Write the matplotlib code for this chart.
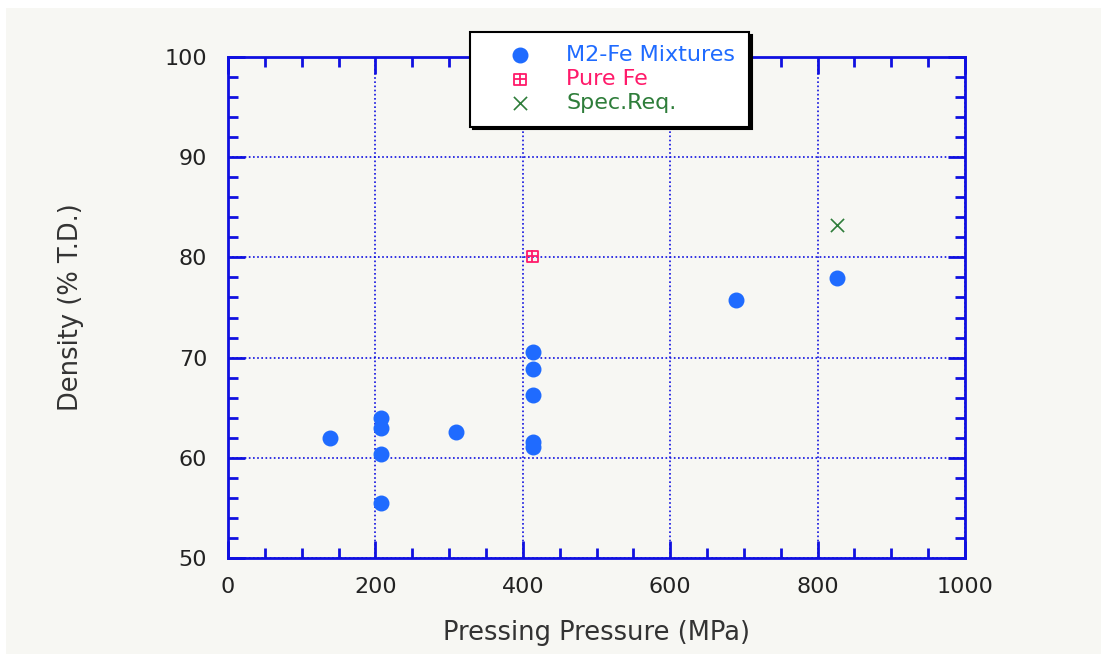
import matplotlib
matplotlib.use("Agg")
import matplotlib.pyplot as plt
from matplotlib.patches import Rectangle
from matplotlib.legend_handler import HandlerTuple
from matplotlib.ticker import MultipleLocator

# data
mix_pressure = [138, 207, 207, 207, 207, 310, 414, 414, 414, 414, 414, 689, 827]
mix_density = [62.0, 64.0, 63.0, 60.4, 55.5, 62.6, 70.6, 68.9, 66.3, 61.6, 61.1, 75.7, 77.9]
fe_pressure = [413]
fe_density = [80.1]
spec_pressure = [827]
spec_density = [83.2]

bg = "#f7f7f3"
axis_blue = "#1010e0"
blue = "#1f6bff"
pink = "#ff1a6a"
green = "#2e7d3a"

plt.rcParams['font.family'] = ['DejaVu Sans']

fig = plt.figure(figsize=(11.01, 6.54), dpi=100, facecolor="white")
fig.patches.append(Rectangle((6 / 1101, 0), 1, 646 / 654, transform=fig.transFigure,
                             facecolor=bg, edgecolor="none", zorder=-10))
ax = fig.add_axes([228 / 1101, 1 - 558 / 654, 737 / 1101, 501 / 654])
ax.set_facecolor(bg)

ax.scatter(mix_pressure, mix_density, s=110, color=blue, zorder=3)
ax.scatter(fe_pressure, fe_density, s=70, marker="s", facecolor="none",
           edgecolor=pink, linewidth=1.3, zorder=3)
ax.scatter(fe_pressure, fe_density, s=70, marker="+", color=pink, linewidth=1.3, zorder=3)
ax.scatter(spec_pressure, spec_density, s=90, marker="x", color=green, linewidth=1.2, zorder=3)

ax.set_xlim(0, 1000)
ax.set_ylim(50, 100)
ax.xaxis.set_major_locator(MultipleLocator(200))
ax.xaxis.set_minor_locator(MultipleLocator(50))
ax.yaxis.set_major_locator(MultipleLocator(10))
ax.yaxis.set_minor_locator(MultipleLocator(2))
ax.grid(True, which="major", color=axis_blue, linestyle=(0, (1, 1.5)), linewidth=1.2)

for sp in ax.spines.values():
    sp.set_color(axis_blue)
    sp.set_linewidth(2)
ax.tick_params(which="both", direction="in", color=axis_blue, width=2,
               top=True, right=True, labelsize=16, labelcolor="#222222")
ax.tick_params(which="major", length=12)
ax.tick_params(which="minor", length=7)
ax.tick_params(axis="y", pad=15)
ax.tick_params(axis="x", pad=14)

ax.set_xlabel("Pressing Pressure (MPa)", fontsize=18.5, color="#333333", labelpad=16)
ax.set_ylabel("Density (% T.D.)", fontsize=18.5, color="#333333", labelpad=58)

# legend
h1 = ax.scatter([], [], s=110, color=blue)
h2a = ax.scatter([], [], s=70, marker="s", facecolor="none", edgecolor=pink, linewidth=1.3)
h2b = ax.scatter([], [], s=70, marker="+", color=pink, linewidth=1.3)
h3 = ax.scatter([], [], s=90, marker="x", color=green, linewidth=1.2)
leg = ax.legend([h1, (h2a, h2b), h3], ["M2-Fe Mixtures", "Pure Fe", "Spec.Req."],
                handler_map={tuple: HandlerTuple(ndivide=1, pad=0)},
                loc="upper left", bbox_to_anchor=(0.328, 1.05), fontsize=16,
                frameon=True, fancybox=False, framealpha=1, edgecolor="black",
                facecolor="white", borderpad=0.6, labelspacing=0.18,
                handletextpad=0.45, borderaxespad=0, handlelength=3.3,
                shadow={"color": "black", "alpha": 1})
leg.get_frame().set_linewidth(1.5)
for txt, c in zip(leg.get_texts(), [blue, pink, green]):
    txt.set_color(c)
leg.set_zorder(10)

fig.savefig("out.png", dpi=100, facecolor=fig.get_facecolor())
